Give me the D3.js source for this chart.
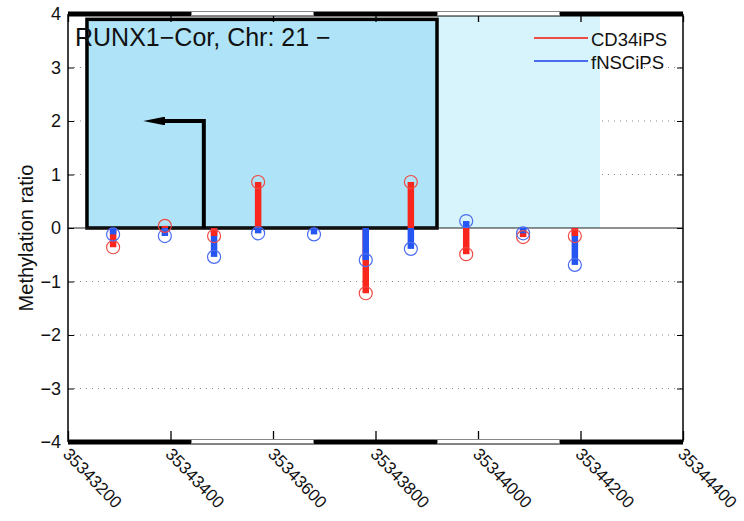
<!DOCTYPE html>
<html>
<head>
<meta charset="utf-8">
<script src="https://cdn.jsdelivr.net/npm/d3@7"></script>
<style>
  html, body { margin: 0; padding: 0; background: #fff; }
  svg { display: block; font-family: "Liberation Sans", Arial, Helvetica, sans-serif; }
</style>
</head>
<body>
<svg id="chart" width="744" height="521"></svg>
<script>
// CpG positions on chr21 and methylation ratios per cell line
const positions = [35343288, 35343389, 35343485, 35343571, 35343680, 35343781, 35343869, 35343977, 35344088, 35344189];
const cd34iPS  = [-0.36, 0.04, -0.15, 0.86, null, -1.22, 0.86, -0.49, -0.17, -0.15];
const fNSCiPS  = [-0.12, -0.15, -0.54, -0.10, -0.12, -0.60, -0.39, 0.13, -0.10, -0.69];

const seriesNames = ["CD34iPS", "fNSCiPS"];
const xTicks = [35343200, 35343400, 35343600, 35343800, 35344000, 35344200, 35344400];
const yTicks = [-4, -3, -2, -1, 0, 1, 2, 3, 4];

// cytoband stripes along top and bottom axes
const bands = [
  {start: 35343200, end: 35343440, stain: "dark"},
  {start: 35343440, end: 35343680, stain: "light"},
  {start: 35343680, end: 35343920, stain: "dark"},
  {start: 35343920, end: 35344160, stain: "light"},
  {start: 35344160, end: 35344400, stain: "dark"}
];

// annotated regions: gene body box and flanking region
const geneBox = {start: 35343237, end: 35343920, top: 3.9};
const flankRegion = {start: 35343920, end: 35344238, top: 4};
// transcription start arrow
const tss = {x: 35343465, tip: 35343346, height: 2};

const title = "RUNX1\u2212Cor, Chr: 21 \u2212";

const svg = d3.select("#chart");
const plotLeft = 68, plotRight = 683, plotTop = 14, plotBottom = 442;

const x = d3.scaleLinear().domain([35343200, 35344400]).range([plotLeft, plotRight]);
const y = d3.scaleLinear().domain([-4, 4]).range([plotBottom, plotTop]);

const colors = {red: "#f8261c", blue: "#2556f2", redRing: "#ee4b45", blueRing: "#4a6cf0"};

// dotted grid lines
svg.append("g").selectAll("line")
  .data(yTicks.filter(d => d !== 0 && Math.abs(d) !== 4))
  .join("line")
  .attr("x1", plotLeft).attr("x2", plotRight)
  .attr("y1", d => y(d)).attr("y2", d => y(d))
  .attr("stroke", "#8a8a8a").attr("stroke-width", 1)
  .attr("stroke-dasharray", "1,5");

// flanking region
svg.append("rect")
  .attr("x", x(flankRegion.start)).attr("y", y(flankRegion.top))
  .attr("width", x(flankRegion.end) - x(flankRegion.start))
  .attr("height", y(0) - y(flankRegion.top))
  .attr("fill", "#d7f3fb");

// gene box
svg.append("rect")
  .attr("x", x(geneBox.start)).attr("y", y(geneBox.top))
  .attr("width", x(geneBox.end) - x(geneBox.start))
  .attr("height", y(0) - y(geneBox.top))
  .attr("fill", "#afe4f8")
  .attr("stroke", "#000").attr("stroke-width", 3.5);

// baseline
svg.append("line")
  .attr("x1", plotLeft).attr("x2", plotRight)
  .attr("y1", y(0)).attr("y2", y(0))
  .attr("stroke", "#222").attr("stroke-width", 1.2);

// TSS arrow
svg.append("defs").append("marker")
  .attr("id", "arrowhead")
  .attr("viewBox", "0 0 10 10").attr("refX", 2).attr("refY", 5)
  .attr("markerWidth", 5.5).attr("markerHeight", 2.2)
  .attr("markerUnits", "strokeWidth")
  .attr("orient", "auto")
  .attr("preserveAspectRatio", "none")
  .append("path").attr("d", "M0,0 L10,5 L0,10 Z").attr("fill", "#000");

svg.append("path")
  .attr("d", d3.line()([[x(tss.x), y(0)], [x(tss.x), y(tss.height)], [x(tss.tip) + 18, y(tss.height)]]))
  .attr("fill", "none").attr("stroke", "#000").attr("stroke-width", 4)
  .attr("stroke-linejoin", "miter")
  .attr("marker-end", "url(#arrowhead)");

// stems: draw longer stem first so the shorter one stays visible
const stemG = svg.append("g");
positions.forEach((p, i) => {
  const pts = [
    {v: cd34iPS[i], c: colors.red, ring: colors.redRing},
    {v: fNSCiPS[i], c: colors.blue, ring: colors.blueRing}
  ].filter(d => d.v !== null);
  pts.sort((a, b) => Math.abs(b.v) - Math.abs(a.v));
  pts.forEach(d => {
    stemG.append("line")
      .attr("x1", x(p)).attr("x2", x(p))
      .attr("y1", y(0)).attr("y2", y(d.v))
      .attr("stroke", d.c).attr("stroke-width", 6.5);
  });
  pts.forEach(d => {
    stemG.append("circle")
      .attr("cx", x(p)).attr("cy", y(d.v)).attr("r", 6.5)
      .attr("fill", "none").attr("stroke", d.ring).attr("stroke-width", 1.2);
  });
});

// axes frame
svg.append("line").attr("x1", plotLeft).attr("x2", plotLeft).attr("y1", plotTop).attr("y2", plotBottom)
  .attr("stroke", "#000").attr("stroke-width", 1.5);
svg.append("line").attr("x1", plotRight).attr("x2", plotRight).attr("y1", plotTop).attr("y2", plotBottom)
  .attr("stroke", "#000").attr("stroke-width", 1.5);

// y ticks (both sides, inward)
const yAxisL = d3.axisLeft(y).tickValues(yTicks).tickSize(-6).tickPadding(7)
  .tickFormat(d => d < 0 ? "\u2212" + Math.abs(d) : d);
const gyl = svg.append("g").attr("transform", `translate(${plotLeft},0)`).call(yAxisL);
gyl.select(".domain").remove();
gyl.selectAll(".tick line").attr("stroke", "#000");
gyl.selectAll(".tick text").attr("font-size", 18).attr("fill", "#111")
  .attr("font-family", "Liberation Sans, Arial, sans-serif");

const yAxisR = d3.axisRight(y).tickValues(yTicks).tickSize(-6).tickFormat("");
const gyr = svg.append("g").attr("transform", `translate(${plotRight},0)`).call(yAxisR);
gyr.select(".domain").remove();
gyr.selectAll(".tick line").attr("stroke", "#000");

// x ticks (inward, top and bottom)
const xAxisB = d3.axisBottom(x).tickValues(xTicks).tickSize(-9).tickFormat("");
const gxb = svg.append("g").attr("transform", `translate(0,${plotBottom - 2})`).call(xAxisB);
gxb.select(".domain").remove();
gxb.selectAll(".tick line").attr("stroke", "#000").attr("stroke-width", 1.3);
const xAxisT = d3.axisTop(x).tickValues(xTicks).tickSize(-6).tickFormat("");
const gxt = svg.append("g").attr("transform", `translate(0,${plotTop + 2})`).call(xAxisT);
gxt.select(".domain").remove();
gxt.selectAll(".tick line").attr("stroke", "#000").attr("stroke-width", 1.3);

// cytoband stripes
function drawBands(yc) {
  const g = svg.append("g");
  g.selectAll("rect.dark").data(bands).join("rect")
    .attr("x", d => x(d.start)).attr("y", yc - 2.5)
    .attr("width", d => x(d.end) - x(d.start)).attr("height", 5)
    .attr("fill", "#000");
  g.selectAll("rect.light").data(bands.filter(d => d.stain === "light")).join("rect")
    .attr("x", d => x(d.start) + 0.5).attr("y", yc - 2.5)
    .attr("width", d => x(d.end) - x(d.start) - 1).attr("height", 4)
    .attr("fill", "#fff").attr("stroke", "#888").attr("stroke-width", 1);
}
drawBands(plotTop);
drawBands(plotBottom);

// x tick labels, rotated
svg.append("g").selectAll("text").data(xTicks).join("text")
  .attr("transform", d => `translate(${x(d) - 6},${plotBottom + 13}) rotate(46)`)
  .attr("font-size", 17).attr("fill", "#111")
  .text(d => d);

// y axis label
svg.append("text")
  .attr("transform", `translate(33,${y(0) + 10}) rotate(-90)`)
  .attr("text-anchor", "middle")
  .attr("font-size", 20).attr("fill", "#111")
  .text("Methylation ratio");

// title
svg.append("text")
  .attr("x", 75).attr("y", 46)
  .attr("font-size", 25).attr("fill", "#111")
  .text(title);

// legend
const legend = svg.append("g");
[colors.redRing, colors.blueRing].forEach((c, i) => {
  legend.append("line")
    .attr("x1", 534).attr("x2", 588)
    .attr("y1", 38 + i * 23).attr("y2", 38 + i * 23)
    .attr("stroke", c).attr("stroke-width", 2);
  legend.append("text")
    .attr("x", 591).attr("y", 46 + i * 23)
    .attr("font-size", 18.5).attr("fill", "#111")
    .text(seriesNames[i]);
});
</script>
</body>
</html>
